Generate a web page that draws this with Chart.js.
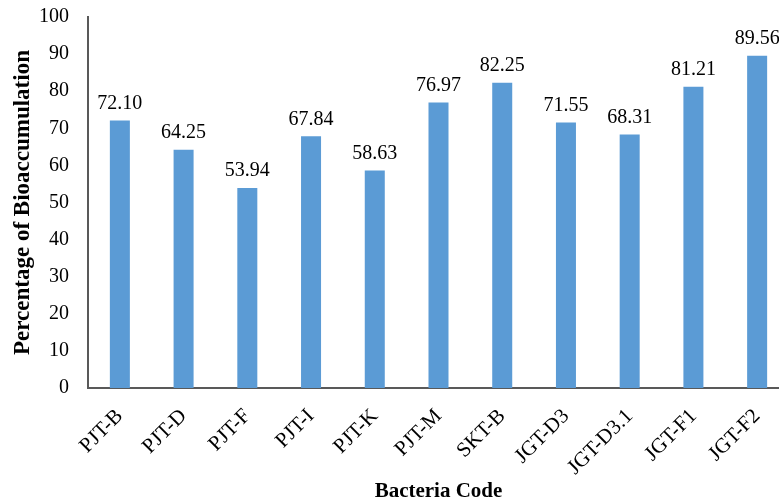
<!DOCTYPE html>
<html>
<head>
<meta charset="utf-8">
<script src="https://cdn.jsdelivr.net/npm/chart.js@4/dist/chart.umd.min.js"></script>
<style>
  html, body { margin: 0; padding: 0; background: #fff; overflow: hidden; }
  #wrap { width: 789px; height: 504px; position: relative; }
</style>
</head>
<body>
<div id="wrap"><canvas id="bio-chart"></canvas></div>
<script>
// --- Data ---
const bacteriaCodes = ['PJT-B', 'PJT-D', 'PJT-F', 'PJT-I', 'PJT-K', 'PJT-M', 'SKT-B', 'JGT-D3', 'JGT-D3.1', 'JGT-F1', 'JGT-F2'];
const bioaccumulation = [72.10, 64.25, 53.94, 67.84, 58.63, 76.97, 82.25, 71.55, 68.31, 81.21, 89.56];
const yTicks = [0, 10, 20, 30, 40, 50, 60, 70, 80, 90, 100];

const serif = "'Liberation Serif', 'Times New Roman', serif";

// draws value labels above each bar
const valueLabels = {
    id: 'valueLabels',
    afterDatasetsDraw(chart) {
        const ctx = chart.ctx;
        const meta = chart.getDatasetMeta(0);
        ctx.save();
        ctx.font = '20px ' + serif;
        ctx.fillStyle = '#000';
        ctx.textAlign = 'center';
        ctx.textBaseline = 'bottom';
        meta.data.forEach((bar, i) => {
            ctx.fillText(bioaccumulation[i].toFixed(2), bar.x, bar.y - 7);
        });
        ctx.restore();
    }
};

const ctx = document.getElementById('bio-chart').getContext('2d');
new Chart(ctx, {
    type: 'bar',
    data: {
        labels: bacteriaCodes,
        datasets: [{
            data: bioaccumulation,
            backgroundColor: '#5B9BD5',
            borderWidth: 0,
            barPercentage: 0.314,
            categoryPercentage: 1
        }]
    },
    options: {
        responsive: true,
        maintainAspectRatio: false,
        animation: false,
        layout: { padding: { top: 17, left: 0, right: 0, bottom: 0 } },
        plugins: {
            legend: { display: false },
            tooltip: { enabled: false }
        },
        scales: {
            x: {
                grid: { display: false, drawTicks: false },
                border: { color: '#595959', width: 2 },
                ticks: {
                    color: '#000',
                    font: { family: serif, size: 21 },
                    minRotation: 45,
                    maxRotation: 45,
                    padding: 16
                },
                title: {
                    display: true,
                    text: 'Bacteria Code',
                    color: '#000',
                    font: { family: serif, size: 21, weight: 'bold' },
                    padding: { top: 0, bottom: 0 }
                },
                afterFit(scale) {
                    scale.height = 116;
                    scale.paddingLeft = 0;
                    scale.paddingRight = 0;
                }
            },
            y: {
                min: 0,
                max: 100,
                afterBuildTicks(scale) { scale.ticks = yTicks.map(v => ({ value: v })); },
                grid: { display: false, drawTicks: false },
                border: { color: '#595959', width: 2 },
                ticks: {
                    color: '#000',
                    font: { family: serif, size: 20 },
                    padding: 19
                },
                title: {
                    display: true,
                    text: 'Percentage of Bioaccumulation',
                    color: '#000',
                    font: { family: serif, size: 23, weight: 'bold' },
                    padding: { top: 9, bottom: 0 }
                },
                afterFit(scale) {
                    scale.width = 88;
                    scale.paddingTop = 0;
                    scale.paddingBottom = 0;
                }
            }
        }
    },
    plugins: [valueLabels]
});
</script>
</body>
</html>
